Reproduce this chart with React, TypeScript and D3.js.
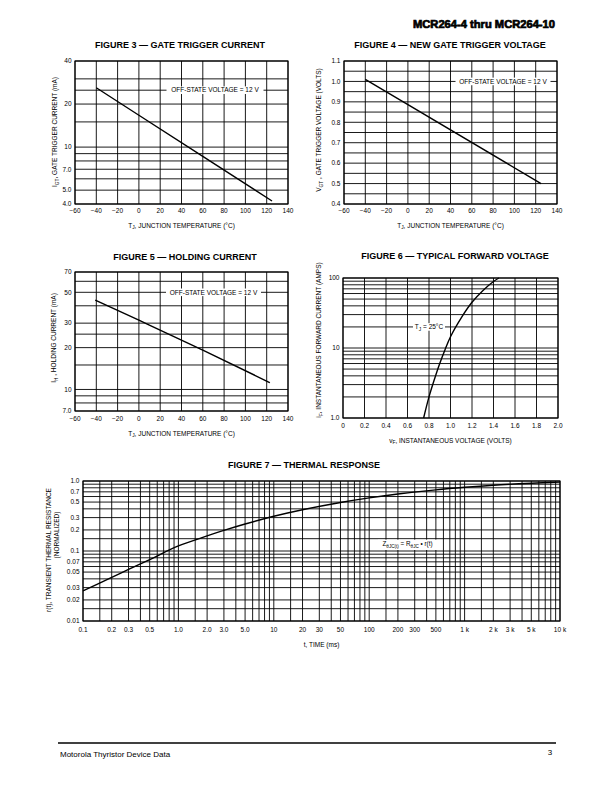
import React from "react"
import * as d3 from "d3"

const FONT = "'Liberation Sans', Arial, Helvetica, sans-serif"

// temperature axis shared by figures 3, 4 and 5
const tempTicks = [-60, -40, -20, 0, 20, 40, 60, 80, 100, 120, 140]
const tempLabels = ["−60", "−40", "−20", "0", "20", "40", "60", "80", "100", "120", "140"]

// figure 3 - gate trigger current
const igtGrid = [4, 5, 6, 7, 8, 9, 10, 15, 20, 25, 30, 40]
const igtTicks = [4, 5, 7, 10, 20, 40]
const igtLabels = ["4.0", "5.0", "7.0", "10", "20", "40"]
const igtTemp = [-40, 0, 60, 125]
const igtValues = [26, 16.7, 8.6, 4.2]

// figure 4 - gate trigger voltage
const vgtGrid = [0.4, 0.45, 0.5, 0.55, 0.6, 0.65, 0.7, 0.75, 0.8, 0.85, 0.9, 0.95, 1.0, 1.05, 1.1]
const vgtTicks = [0.4, 0.5, 0.6, 0.7, 0.8, 0.9, 1.0, 1.1]
const vgtLabels = ["0.4", "0.5", "0.6", "0.7", "0.8", "0.9", "1.0", "1.1"]
const vgtTemp = [-40, 125]
const vgtValues = [1.01, 0.5]

// figure 5 - holding current
const ihGrid = [7, 8, 9, 10, 15, 20, 25, 30, 40, 50, 60, 70]
const ihTicks = [7, 10, 20, 30, 50, 70]
const ihLabels = ["7.0", "10", "20", "30", "50", "70"]
const ihTemp = [-41, 0, 60, 123]
const ihValues = [44, 31.5, 19.2, 11.2]

// figure 6 - forward voltage
const vfTicks = [0, 0.2, 0.4, 0.6, 0.8, 1.0, 1.2, 1.4, 1.6, 1.8, 2.0]
const vfLabels = ["0", "0.2", "0.4", "0.6", "0.8", "1.0", "1.2", "1.4", "1.6", "1.8", "2.0"]
const ifGrid = [1, 2, 3, 4, 5, 6, 7, 8, 9, 10, 20, 30, 40, 50, 60, 70, 80, 90, 100]
const ifTicks = [1, 10, 100]
const ifLabels = ["1.0", "10", "100"]
const vfValues = [0.75, 0.8, 0.85, 0.9, 0.95, 1.0, 1.1, 1.2, 1.3, 1.4, 1.45]
const ifValues = [1.0, 2.0, 3.55, 6.0, 9.5, 14.5, 27, 45, 66, 89, 100]

// figure 7 - thermal response
const mantissa = [1, 1.5, 2, 3, 4, 5, 6, 7, 8, 9]
const timeDecades = [0.1, 1, 10, 100, 1000]
const rDecades = [0.01, 0.1]
const timeTicks = [0.1, 0.2, 0.3, 0.5, 1, 2, 3, 5, 10, 20, 30, 50, 100, 200, 300, 500, 1000, 2000, 3000, 5000, 10000]
const timeLabels = ["0.1", "0.2", "0.3", "0.5", "1.0", "2.0", "3.0", "5.0", "10", "20", "30", "50", "100", "200", "300", "500", "1 k", "2 k", "3 k", "5 k", "10 k"]
const rTicks = [0.01, 0.02, 0.03, 0.05, 0.07, 0.1, 0.2, 0.3, 0.5, 0.7, 1.0]
const rLabels = ["0.01", "0.02", "0.03", "0.05", "0.07", "0.1", "0.2", "0.3", "0.5", "0.7", "1.0"]
const timeValues = [0.1, 0.2, 0.3, 0.5, 1, 2, 3, 5, 10, 20, 50, 100, 200, 500, 1000, 2000, 5000, 10000]
const rValues = [0.027, 0.042, 0.0545, 0.0755, 0.118, 0.164, 0.197, 0.243, 0.314, 0.389, 0.494, 0.575, 0.652, 0.748, 0.813, 0.871, 0.929, 0.965]

const timeGrid = timeDecades.flatMap((d) => mantissa.map((m) => d * m)).concat([10000])
const rGrid = rDecades.flatMap((d) => mantissa.map((m) => d * m)).concat([1])

function Panel({ x, y, xGrid, yGrid, xTicks, xLabels, yTicks, yLabels, xs, ys, curve, tickOff }) {
  const [x0, x1] = x.range()
  const [y0, y1] = y.range()
  const line = d3.line()
    .x((_, i) => x(xs[i]))
    .y((d) => y(d))
    .curve(curve || d3.curveLinear)
  return (
    <g>
      {xGrid.map((v) => (
        <line key={"gx" + v} x1={x(v)} x2={x(v)} y1={y1} y2={y0} stroke="#000" strokeWidth={0.9} />
      ))}
      {yGrid.map((v) => (
        <line key={"gy" + v} x1={x0} x2={x1} y1={y(v)} y2={y(v)} stroke="#000" strokeWidth={0.9} />
      ))}
      <rect x={x0} y={y1} width={x1 - x0} height={y0 - y1} fill="none" stroke="#000" strokeWidth={1.1} />
      <path d={line(ys)} fill="none" stroke="#000" strokeWidth={1.4} />
      {xTicks.map((v, i) => (
        <text key={"tx" + v} x={x(v)} y={y0 + tickOff} textAnchor="middle" fontSize={6.5}>{xLabels[i]}</text>
      ))}
      {yTicks.map((v, i) => (
        <text key={"ty" + v} x={x0 - 3.5} y={y(v) + 2.3} textAnchor="end" fontSize={6.5}>{yLabels[i]}</text>
      ))}
    </g>
  )
}

function Callout({ cx, cy, w, children }) {
  return (
    <g>
      <rect x={cx - w / 2} y={cy - 3.8} width={w} height={7.6} fill="#fff" />
      <text x={cx} y={cy + 2.3} textAnchor="middle" fontSize={6.5}>{children}</text>
    </g>
  )
}

function Title({ x, y, children }) {
  return <text x={x} y={y} textAnchor="middle" fontSize={9} fontWeight="bold">{children}</text>
}

function TempTitle({ x, y }) {
  return (
    <text x={x} y={y} textAnchor="middle" fontSize={6.5}>
      T<tspan fontSize={4.8} dy={1.5}>J</tspan><tspan dy={-1.5}>, JUNCTION TEMPERATURE (°C)</tspan>
    </text>
  )
}

function YTitle({ x, y, main, sub, rest }) {
  return (
    <text transform={`translate(${x},${y}) rotate(-90)`} textAnchor="middle" fontSize={6.5}>
      {main}<tspan fontSize={4.8} dy={1.5}>{sub}</tspan><tspan dy={-1.5}>{rest}</tspan>
    </text>
  )
}

export default function App() {
  const x3 = d3.scaleLinear().domain([-60, 140]).range([75, 288])
  const y3 = d3.scaleLog().domain([4, 40]).range([204, 61])
  const x4 = d3.scaleLinear().domain([-60, 140]).range([344, 557])
  const y4 = d3.scaleLinear().domain([0.4, 1.1]).range([204, 61])
  const x5 = d3.scaleLinear().domain([-60, 140]).range([75, 288])
  const y5 = d3.scaleLog().domain([7, 70]).range([411, 272])
  const x6 = d3.scaleLinear().domain([0, 2]).range([343, 558])
  const y6 = d3.scaleLog().domain([1, 100]).range([418, 278])
  const x7 = d3.scaleLog().domain([0.1, 10000]).range([83, 560])
  const y7 = d3.scaleLog().domain([0.01, 1]).range([621, 481])

  return (
    <svg width={612} height={792} style={{ position: "absolute", left: 0, top: 0, background: "#fff" }}
      fontFamily={FONT} fill="#000">
      <text x={555} y={27.5} textAnchor="end" fontSize={10.5} fontWeight="bold" stroke="#000" strokeWidth={0.7}
        textLength={142} lengthAdjust="spacingAndGlyphs">MCR264-4 thru MCR264-10</text>

      {/* figure 3 */}
      <Title x={180} y={48.3}>FIGURE 3 — GATE TRIGGER CURRENT</Title>
      <Panel x={x3} y={y3} xGrid={tempTicks} yGrid={igtGrid} xTicks={tempTicks} xLabels={tempLabels}
        yTicks={igtTicks} yLabels={igtLabels} xs={igtTemp} ys={igtValues} tickOff={9.3} />
      <Callout cx={215} cy={y3(25)} w={97}>OFF-STATE VOLTAGE = 12 V</Callout>
      <TempTitle x={181.5} y={227.5} />
      <YTitle x={57} y={132} main="I" sub="GT" rest=", GATE TRIGGER CURRENT (mA)" />

      {/* figure 4 */}
      <Title x={450} y={48.3}>FIGURE 4 — NEW GATE TRIGGER VOLTAGE</Title>
      <Panel x={x4} y={y4} xGrid={tempTicks} yGrid={vgtGrid} xTicks={tempTicks} xLabels={tempLabels}
        yTicks={vgtTicks} yLabels={vgtLabels} xs={vgtTemp} ys={vgtValues} tickOff={9.3} />
      <Callout cx={503} cy={y4(1.0)} w={95}>OFF-STATE VOLTAGE = 12 V</Callout>
      <TempTitle x={450.5} y={227.5} />
      <YTitle x={321} y={130} main="V" sub="GT" rest=" , GATE TRIGGER VOLTAGE (VOLTS)" />

      {/* figure 5 */}
      <Title x={185} y={260.2}>FIGURE 5 — HOLDING CURRENT</Title>
      <Panel x={x5} y={y5} xGrid={tempTicks} yGrid={ihGrid} xTicks={tempTicks} xLabels={tempLabels}
        yTicks={ihTicks} yLabels={ihLabels} xs={ihTemp} ys={ihValues} curve={d3.curveMonotoneX} tickOff={10.3} />
      <Callout cx={213.5} cy={y5(50)} w={95}>OFF-STATE VOLTAGE = 12 V</Callout>
      <TempTitle x={181.5} y={435.5} />
      <YTitle x={56} y={338} main="I" sub="H" rest=" , HOLDING CURRENT (mA)" />

      {/* figure 6 */}
      <Title x={455} y={259.2}>FIGURE 6 — TYPICAL FORWARD VOLTAGE</Title>
      <Panel x={x6} y={y6} xGrid={vfTicks} yGrid={ifGrid} xTicks={vfTicks} xLabels={vfLabels}
        yTicks={ifTicks} yLabels={ifLabels} xs={vfValues} ys={ifValues} curve={d3.curveCatmullRom.alpha(0.5)} tickOff={10.3} />
      <g>
        <rect x={413} y={y6(20) - 3.8} width={32} height={7.6} fill="#fff" />
        <text x={429} y={y6(20) + 2.3} textAnchor="middle" fontSize={6.5}>
          T<tspan fontSize={4.8} dy={1.5}>J</tspan><tspan dy={-1.5}> = 25°C</tspan>
        </text>
      </g>
      <text x={450.5} y={442.5} textAnchor="middle" fontSize={6.5}>
        v<tspan fontSize={4.8} dy={1.5}>F</tspan><tspan dy={-1.5}>, INSTANTANEOUS VOLTAGE (VOLTS)</tspan>
      </text>
      <YTitle x={321} y={340} main="i" sub="F" rest=", INSTANTANEOUS FORWARD CURRENT (AMPS)" />

      {/* figure 7 */}
      <Title x={304} y={468.2}>FIGURE 7 — THERMAL RESPONSE</Title>
      <Panel x={x7} y={y7} xGrid={timeGrid} yGrid={rGrid} xTicks={timeTicks} xLabels={timeLabels}
        yTicks={rTicks} yLabels={rLabels} xs={timeValues} ys={rValues} curve={d3.curveCatmullRom.alpha(0.5)} tickOff={11.3} />
      <g>
        <rect x={378} y={y7(0.15) + 1} width={59} height={y7(0.1) - y7(0.15) - 2} fill="#fff" />
        <text x={407.5} y={y7(0.125) + 2.2} textAnchor="middle" fontSize={6.3}>
          Z<tspan fontSize={4.6} dy={1.5}>θJC(t)</tspan><tspan dy={-1.5}> = R</tspan>
          <tspan fontSize={4.6} dy={1.5}>θJC</tspan><tspan dy={-1.5}> • r(t)</tspan>
        </text>
      </g>
      <text x={321.5} y={646.5} textAnchor="middle" fontSize={6.5}>t, TIME (ms)</text>
      <text transform="translate(51,550) rotate(-90)" textAnchor="middle" fontSize={6.5}>r(t), TRANSIENT THERMAL RESISTANCE</text>
      <text transform="translate(59,535) rotate(-90)" textAnchor="middle" fontSize={6.5}>(NORMALIZED)</text>

      {/* footer */}
      <line x1={58} x2={556} y1={743} y2={743} stroke="#000" strokeWidth={1.6} />
      <text x={60} y={757} fontSize={8}>Motorola Thyristor Device Data</text>
      <text x={550} y={755} textAnchor="middle" fontSize={8}>3</text>
    </svg>
  )
}
